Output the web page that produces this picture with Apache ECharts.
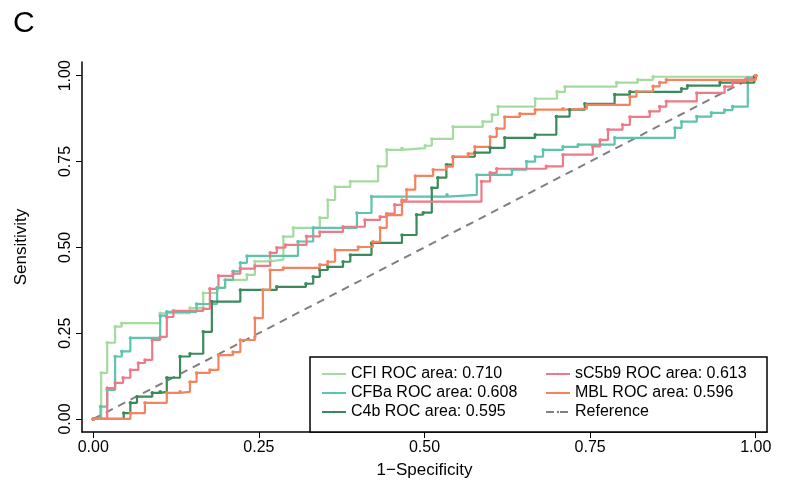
<!DOCTYPE html>
<html>
<head>
<meta charset="utf-8">
<script src="https://cdn.jsdelivr.net/npm/echarts@6/dist/echarts.min.js"></script>
<style>html,body{margin:0;padding:0;background:#fff}#main{width:788px;height:496px}</style>
</head>
<body>
<div id="main"></div>
<script>
// ROC points [1-specificity, sensitivity]
var cfi = [[0,0],[.012,.134],[.021,.222],[.033,.269],[.043,.279],[.101,.308],[.146,.323],[.166,.367],[.187,.382],[.199,.405],[.232,.420],[.244,.459],[.267,.464],[.287,.531],[.302,.557],[.342,.586],[.354,.638],[.365,.676],[.388,.692],[.430,.736],[.443,.784],[.466,.789],[.501,.796],[.511,.816],[.543,.851],[.588,.866],[.602,.886],[.611,.910],[.667,.933],[.700,.953],[.712,.968],[.790,.980],[.822,.988],[.845,.997],[1,1]];
var cfba = [[0,0],[.011,.036],[.021,.085],[.033,.182],[.043,.197],[.056,.236],[.101,.301],[.111,.312],[.156,.335],[.187,.382],[.199,.405],[.211,.430],[.222,.455],[.232,.475],[.309,.517],[.332,.557],[.398,.600],[.420,.648],[.534,.653],[.579,.711],[.632,.726],[.654,.750],[.667,.764],[.679,.784],[.709,.793],[.732,.799],[.787,.819],[.878,.848],[.888,.866],[.911,.881],[.933,.892],[.953,.900],[.965,.910],[.988,.994],[1,1]];
var c4b = [[0,0],[.046,.017],[.056,.047],[.066,.065],[.089,.076],[.101,.079],[.111,.120],[.131,.182],[.146,.190],[.166,.254],[.179,.342],[.222,.376],[.277,.385],[.321,.394],[.332,.414],[.342,.434],[.354,.443],[.377,.458],[.388,.478],[.420,.513],[.466,.536],[.488,.595],[.498,.601],[.511,.673],[.520,.703],[.533,.741],[.543,.764],[.576,.776],[.599,.790],[.621,.819],[.667,.828],[.699,.881],[.719,.901],[.742,.918],[.787,.945],[.810,.953],[.888,.962],[.897,.971],[.946,.980],[.998,.997],[1,1]];
var sc5b9 = [[0,0],[.021,.090],[.033,.105],[.045,.120],[.056,.143],[.068,.163],[.078,.172],[.089,.230],[.101,.239],[.111,.297],[.121,.315],[.166,.321],[.176,.379],[.189,.417],[.211,.423],[.222,.438],[.244,.446],[.267,.484],[.277,.499],[.290,.507],[.322,.532],[.342,.545],[.377,.560],[.410,.580],[.433,.589],[.443,.598],[.455,.624],[.466,.633],[.586,.692],[.599,.717],[.609,.729],[.684,.736],[.709,.770],[.754,.794],[.765,.813],[.777,.843],[.799,.857],[.810,.880],[.840,.896],[.855,.910],[.865,.925],[.911,.950],[.953,.968],[.965,.983],[.985,.990],[1,1]];
var mbl = [[0,0],[.056,.017],[.078,.047],[.111,.076],[.131,.079],[.146,.108],[.156,.134],[.176,.143],[.189,.186],[.211,.195],[.222,.230],[.244,.239],[.244,.294],[.256,.376],[.267,.434],[.287,.440],[.342,.449],[.354,.458],[.365,.492],[.400,.501],[.422,.516],[.433,.557],[.443,.594],[.466,.638],[.473,.668],[.486,.708],[.513,.726],[.533,.735],[.543,.764],[.566,.773],[.576,.793],[.599,.822],[.609,.846],[.621,.880],[.644,.889],[.667,.901],[.709,.904],[.745,.915],[.810,.939],[.820,.954],[.845,.969],[.855,.980],[.865,.988],[1,1]];
var reference = [[0,0],[1,1]];
var tickValues = [0, 0.25, 0.5, 0.75, 1];
var tickLabels = ['0.00', '0.25', '0.50', '0.75', '1.00'];

var font = 'Liberation Sans, Arial, sans-serif';
function roc(name, data, color) {
    return {
        name: name, type: 'line', step: 'end', data: data,
        symbol: 'circle', symbolSize: 3.5, showSymbol: true,
        lineStyle: { color: color, width: 2.2 },
        itemStyle: { color: color }, z: 2
    };
}
var fmt = function (v) { return tickLabels[tickValues.indexOf(v)] || ''; };

var chart = echarts.init(document.getElementById('main'));
chart.setOption({
    animation: false,
    title: { text: 'C', left: 8, top: 4, textStyle: { fontFamily: font, fontSize: 30, fontWeight: 'normal', color: '#000' } },
    grid: { left: 82, right: 21, top: 62, bottom: 64 },
    xAxis: {
        type: 'value', min: -0.017, max: 1.017,
        name: '1\u2212Specificity', nameLocation: 'middle', nameGap: 30,
        nameTextStyle: { fontFamily: font, fontSize: 17, color: '#000' },
        axisLine: { onZero: false, lineStyle: { color: '#000', width: 1.5 } },
        axisTick: { customValues: tickValues, length: 6, lineStyle: { color: '#000' } },
        axisLabel: { customValues: tickValues, formatter: fmt, fontFamily: font, fontSize: 16, color: '#000' },
        splitLine: { show: false }
    },
    yAxis: {
        type: 'value', min: -0.038, max: 1.04,
        name: 'Sensitivity', nameLocation: 'middle', nameGap: 52,
        nameTextStyle: { fontFamily: font, fontSize: 17, color: '#000' },
        axisLine: { show: true, onZero: false, lineStyle: { color: '#000', width: 1.5 } },
        axisTick: { show: true, customValues: tickValues, length: 6, lineStyle: { color: '#000' } },
        axisLabel: { customValues: tickValues, formatter: fmt, rotate: 90, fontFamily: font, fontSize: 16, color: '#000' },
        splitLine: { show: false }
    },
    legend: [{
        orient: 'vertical', left: 316, top: 361, itemGap: 3, itemWidth: 24, itemHeight: 3, z: 10,
        data: ['CFI ROC area: 0.710', 'CFBa ROC area: 0.608', 'C4b ROC area: 0.595'],
        textStyle: { fontFamily: font, fontSize: 16, color: '#000' }
    }, {
        orient: 'vertical', left: 540, top: 361, itemGap: 3, itemWidth: 24, itemHeight: 3, z: 10,
        data: ['sC5b9 ROC area: 0.613', 'MBL ROC area: 0.596', 'Reference'],
        textStyle: { fontFamily: font, fontSize: 16, color: '#000' }
    }],
    graphic: [{
        type: 'rect', shape: { x: 310, y: 357, width: 457, height: 75 }, z: 3,
        style: { fill: '#fff', stroke: '#000', lineWidth: 1.5 }
    }],
    series: [
        { name: 'Reference', type: 'line', data: reference, symbol: 'none',
          lineStyle: { color: '#808080', width: 2, type: [8, 6] }, itemStyle: { color: '#808080' }, z: 1 },
        roc('CFI ROC area: 0.710', cfi, '#a6dba0'),
        roc('CFBa ROC area: 0.608', cfba, '#5ec4ac'),
        roc('C4b ROC area: 0.595', c4b, '#3b8a5b'),
        roc('sC5b9 ROC area: 0.613', sc5b9, '#ee7a87'),
        roc('MBL ROC area: 0.596', mbl, '#f4845f')
    ]
});
</script>
</body>
</html>
